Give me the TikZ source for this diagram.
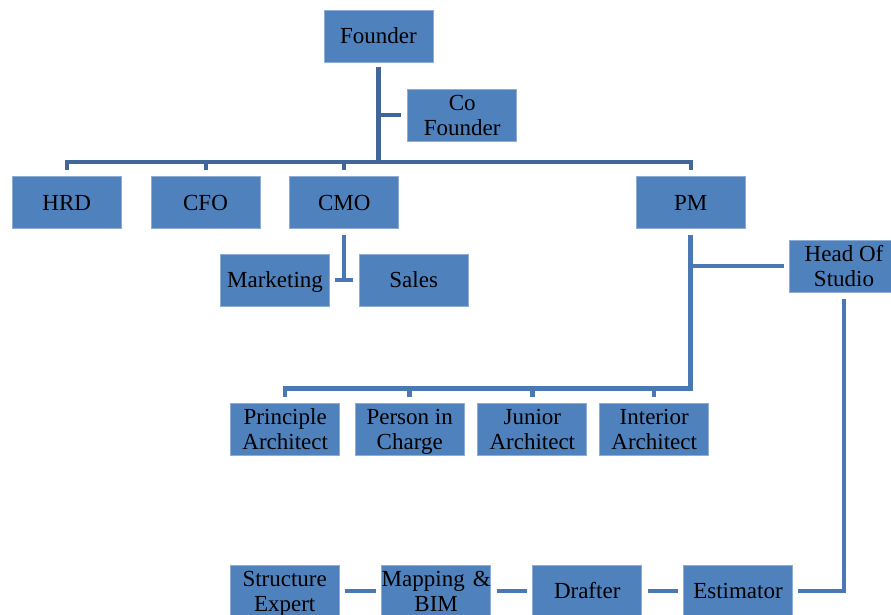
\documentclass[tikz,border=0pt]{standalone}
\usepackage{fontspec}
\setmainfont{Liberation Serif}
\definecolor{boxfill}{HTML}{4F81BD}
\definecolor{boxedge}{HTML}{8DADD6}
\definecolor{lntop}{HTML}{41679A}
\definecolor{lnlow}{HTML}{4A78B4}
\newcommand{\orgst}{\rule[-5pt]{0pt}{25pt}}
\begin{document}
\begin{tikzpicture}[x=1pt,y=-1pt,
  orgbox/.style={draw=boxedge,line width=0.8pt,fill=boxfill,minimum width=109pt,minimum height=52pt,
    inner sep=0pt,align=center,font=\fontsize{23}{25}\selectfont,text=black},
  lnt/.style={draw=lntop,line width=4.5pt},
  lnl/.style={draw=lnlow,line width=4.5pt}]
\useasboundingbox (0,0) rectangle (891,614);
\clip (0,0) rectangle (891,614);
% nodes
\node[orgbox] (founder) at (378.5,36) {\orgst Founder};
\node[orgbox] (cofounder) at (462.2,115.2) {\orgst Co\\\orgst Founder};
\node[orgbox] (hrd) at (66.7,202.5) {\orgst HRD};
\node[orgbox] (cfo) at (205.5,202.5) {\orgst CFO};
\node[orgbox] (cmo) at (344.2,202.5) {\orgst CMO};
\node[orgbox] (pm) at (690.7,202.5) {\orgst PM};
\node[orgbox] (marketing) at (275,280) {\orgst Marketing};
\node[orgbox] (sales) at (413.7,280) {\orgst Sales};
\node[orgbox] (head) at (844,266.2) {\orgst Head Of\\\orgst Studio};
\node[orgbox] (principle) at (285.2,429) {\orgst Principle\\\orgst Architect};
\node[orgbox] (person) at (409.7,429) {\orgst Person in\\\orgst Charge};
\node[orgbox] (junior) at (532.3,429) {\orgst Junior\\\orgst Architect};
\node[orgbox] (interior) at (654.2,429) {\orgst Interior\\\orgst Architect};
\node[orgbox] (structure) at (284.7,591) {\orgst Structure\\\orgst Expert};
\node[orgbox] (mapping) at (436.2,591) {\orgst Mapping\hspace{8pt}\&\\\orgst BIM};
\node[orgbox] (drafter) at (587.2,591) {\orgst Drafter};
\node[orgbox] (estimator) at (738,591) {\orgst Estimator};
% helper coordinates
\coordinate (bus) at (0,161.7);
\coordinate (bus2) at (0,388.3);
% top connectors
\draw[lnt] ([yshift=-5pt]founder.south) -- (founder.south |- bus);
\draw[lnt] (founder.south |- cofounder.west) -- ([xshift=-6pt]cofounder.west);
\draw[lnt,line width=4pt] ([yshift=6pt]hrd.north) -- (hrd.north |- bus) -- (pm.north |- bus) -- ([yshift=6pt]pm.north);
\draw[lnt,line width=4pt] ([yshift=6pt]cfo.north) -- (cfo.north |- bus);
\draw[lnt,line width=4pt] ([yshift=6pt]cmo.north) -- (cmo.north |- bus);
% CMO
\draw[lnl] ([yshift=-6pt]cmo.south) -- (cmo.south |- marketing.east);
\draw[lnl] ([xshift=5.5pt]marketing.east) -- ([xshift=-5.5pt]sales.west);
% PM
\draw[lnl] ([yshift=-6pt]pm.south) -- (pm.south |- bus2) -- (principle.north |- bus2) -- ([yshift=6pt]principle.north);
\draw[lnl] (person.north |- bus2) -- ([yshift=6pt]person.north);
\draw[lnl] (junior.north |- bus2) -- ([yshift=6pt]junior.north);
\draw[lnl] (interior.north |- bus2) -- ([yshift=6pt]interior.north);
\draw[lnl] (pm.south |- head.west) -- ([xshift=-5.5pt]head.west);
% Head of studio chain
\draw[lnl] ([yshift=-6pt]head.south) -- (head.south |- estimator.east) -- ([xshift=5.5pt]estimator.east);
\draw[lnl] ([xshift=-5.5pt]estimator.west) -- ([xshift=6pt]drafter.east);
\draw[lnl] ([xshift=-5.5pt]drafter.west) -- ([xshift=5.5pt]mapping.east);
\draw[lnl] ([xshift=-5.5pt]mapping.west) -- ([xshift=5.5pt]structure.east);
\end{tikzpicture}
\end{document}
